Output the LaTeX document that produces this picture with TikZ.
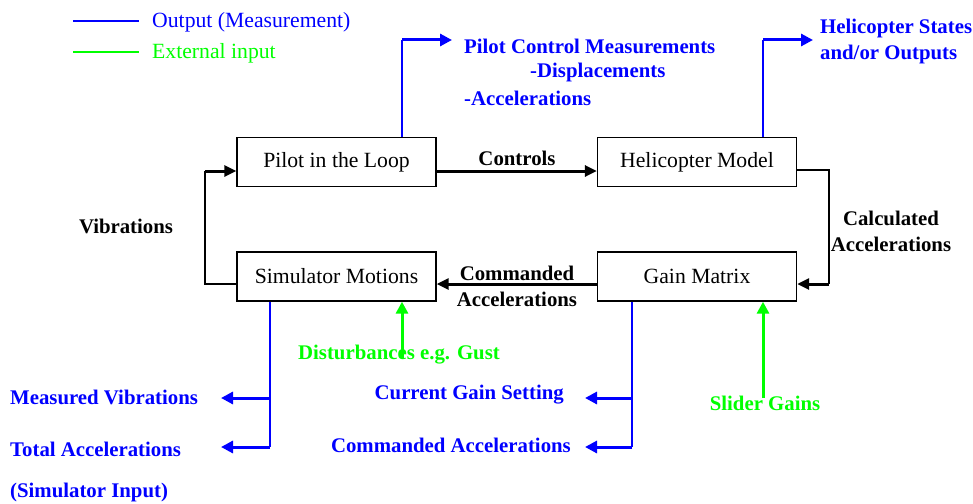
\documentclass[tikz,border=0pt]{standalone}
\usepackage{fontspec}
\setmainfont{Liberation Serif}
\usepackage{tikz}
\usetikzlibrary{arrows.meta,positioning,calc}

\definecolor{outblue}{RGB}{0,0,255}
\definecolor{extgreen}{RGB}{0,255,0}

\tikzset{
  blk/.style={draw, line width=1.4pt, minimum width=199pt, minimum height=49pt,
    inner sep=0pt, font=\fontsize{21.7}{26}\selectfont},
  lbl/.style={inner sep=0pt, font=\fontsize{20.8}{26}\selectfont\bfseries},
  leg/.style={inner sep=0pt, font=\fontsize{21.7}{26}\selectfont},
  thinline/.style={line width=2pt},
  fwd/.style={line width=3pt, -{Triangle[length=12pt,width=11pt]}},
  bluethin/.style={outblue, line width=2pt},
  blueout/.style={outblue, line width=3pt, -{Triangle[length=12pt,width=12pt]}},
  greenin/.style={extgreen, line width=3pt, -{Triangle[length=12pt,width=12pt]}}
}

\begin{document}
\begin{tikzpicture}[x=1pt,y=-1pt]
\useasboundingbox (0,0) rectangle (973,503);

% legend
\coordinate (lb0) at (73,21);  \coordinate (lb1) at (139,21);
\coordinate (lg0) at (73,52);  \coordinate (lg1) at (139,52);
\draw[bluethin] (lb0) -- (lb1);
\draw[extgreen, line width=2pt] (lg0) -- (lg1);
\node[leg, outblue, anchor=west] (legout) at (152,22) {Output (Measurement)};
\node[leg, extgreen, anchor=west] (legext) at (152,53) {External input};

% blocks
\node[blk] (pilot) at (336.5,162) {Pilot in the Loop};
\node[blk] (heli)  at (697,162)   {Helicopter Model};
\node[blk] (sim)   at (336.5,276.5) {Simulator Motions};
\node[blk] (gain)  at (697,276.5) {Gain Matrix};

% main loop
\draw[fwd] ([yshift=-9pt]pilot.east) -- ([yshift=-9pt]heli.west);
\node[lbl] (ctrl) at (517,158) {Controls};

\coordinate (cR) at (829,284);
\draw[thinline] ([yshift=-8pt]heli.east) -| (cR);
\draw[fwd] (cR) -- (cR -| gain.east);
\node[lbl, align=center] (calc) at (891,231) {Calculated\\Accelerations};

\draw[fwd] ([yshift=-7.5pt]gain.west) -- ([yshift=-7.5pt]sim.east);
\node[lbl, align=center] (cmd) at (517,286) {Commanded\\Accelerations};

\coordinate (cL) at (205,171);
\draw[thinline] ([yshift=-7.5pt]sim.west) -| (cL);
\draw[fwd] (cL) -- (cL -| pilot.west);
\node[lbl] (vib) at (126,226) {Vibrations};

% measured outputs
\coordinate (pm) at (402,40);  \coordinate (pmEnd) at (452,40);
\draw[bluethin] (pilot.north -| pm) -- (pm);
\draw[blueout] (pm) -- (pmEnd);
\node[lbl, outblue, anchor=west] (pcm1) at (464,46) {Pilot Control Measurements};
\node[lbl, outblue, anchor=west] (pcm2) at (530,72) {-Displacements};
\node[lbl, outblue, anchor=west] (pcm3) at (464,98) {-Accelerations};

\coordinate (hs) at (763,40);  \coordinate (hsEnd) at (813,40);
\draw[bluethin] (heli.north -| hs) -- (hs);
\draw[blueout] (hs) -- (hsEnd);
\node[lbl, outblue, anchor=west, align=left] (hstates) at (820,41) {Helicopter States\\and/or Outputs};

\coordinate (sv1) at (270,398);  \coordinate (sv1End) at (221,398);
\coordinate (sv2) at (270,447);  \coordinate (sv2End) at (221,447);
\draw[bluethin] (sim.south -| sv2) -- (sv2);
\draw[blueout] (sv1) -- (sv1End);
\draw[blueout] (sv2) -- (sv2End);
\node[lbl, outblue, anchor=west] (mvib) at (10,397) {Measured Vibrations};
\node[lbl, outblue, anchor=west] (tacc) at (10,449) {Total Accelerations};
\node[lbl, outblue, anchor=west] (siminp) at (10,492) {(Simulator Input)};

\coordinate (gv1) at (632,398);  \coordinate (gv1End) at (585,398);
\coordinate (gv2) at (632,447);  \coordinate (gv2End) at (585,447);
\draw[bluethin] (gain.south -| gv2) -- (gv2);
\draw[blueout] (gv1) -- (gv1End);
\draw[blueout] (gv2) -- (gv2End);
\node[lbl, outblue, anchor=east] (cgs) at (564,395) {Current Gain Setting};
\node[lbl, outblue, anchor=east] (cacc) at (571,445) {Commanded Accelerations};

% external inputs
\node[lbl, extgreen] (dist) at (399,355) {Disturbances e.g. Gust};
\coordinate (d0) at (402,358);
\draw[greenin] (d0) -- (d0 |- sim.south);

\node[lbl, extgreen] (slider) at (765,403) {Slider Gains};
\coordinate (s0) at (763,398);
\draw[greenin] (s0) -- (s0 |- gain.south);
\end{tikzpicture}
\end{document}
